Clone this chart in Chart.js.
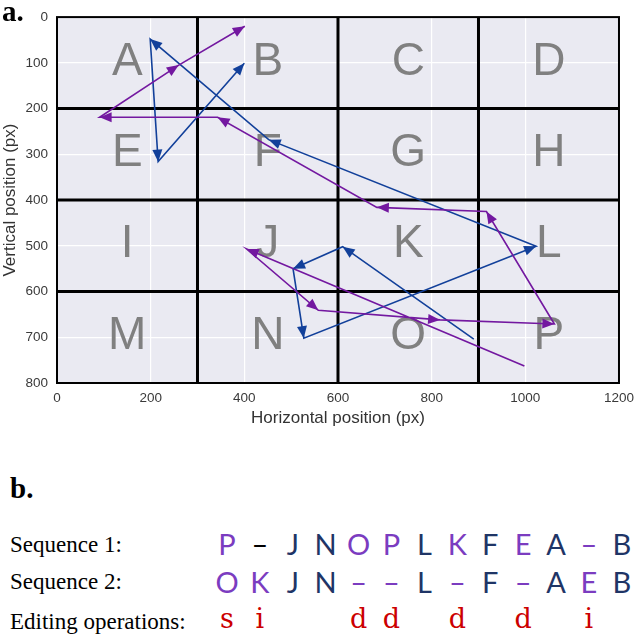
<!DOCTYPE html>
<html>
<head>
<meta charset="utf-8">
<script src="https://cdn.jsdelivr.net/npm/chart.js@4"></script>
<style>
  html, body { margin: 0; padding: 0; background: #fff; }
  body { width: 641px; height: 639px; position: relative; overflow: hidden; }
  #quadro { position: absolute; left: 0; top: 0; width: 641px; height: 432px; }
  .rotulo { position: absolute; font-family: "Liberation Serif", serif; font-weight: bold; color: #000; }
  .linhaTxt { position: absolute; left: 10px; font-family: "Liberation Serif", serif; font-size: 23px; color: #000; }
  .celula { position: absolute; width: 33px; text-align: center; font-family: Lato, "Noto Sans", sans-serif; font-size: 29px; }
  .op { position: absolute; width: 33px; text-align: center; font-family: "DejaVu Serif", serif; font-size: 27px; color: #cc0000; }
</style>
</head>
<body>
<div id="quadro"><canvas id="grafico"></canvas></div>
<div class="rotulo" style="left:2px; top:-5px; font-size:29px;">a.</div>
<div class="rotulo" style="left:10px; top:472px; font-size:29px;">b.</div>
<div class="linhaTxt" style="top:532px;">Sequence 1:</div>
<div class="linhaTxt" style="top:569px;">Sequence 2:</div>
<div class="linhaTxt" style="top:609px;">Editing operations:</div>
<div id="seqs"></div>
<script>
// posições na grade (px da tela original)
const caminhoRoxoX = [998, 405, 558, 818, 1062, 917, 683, 343, 91, 260, 401];
const caminhoRoxoY = [763, 507, 641, 662, 671, 425, 416, 219, 219, 105, 20];
const caminhoAzulX = [890, 610, 504, 527, 1023, 452, 199, 216, 400];
const caminhoAzulY = [704, 502, 550, 702, 501, 268, 48, 316, 101];

const letrasCelulas = ['A','B','C','D','E','F','G','H','I','J','K','L','M','N','O','P'];
const bordasX = [300, 600, 900];
const bordasY = [200, 400, 600];

const sequencia1 = ['P','–','J','N','O','P','L','K','F','E','A','–','B'];
const sequencia2 = ['O','K','J','N','–','–','L','–','F','–','A','E','B'];
const operacoes = ['s','i','','','d','d','','d','','d','','i',''];

const ROXO = '#7318a0';
const AZUL = '#12409a';

const pluginGrade = {
    id: 'grade',
    beforeDatasetsDraw(chart) {
        const ctx = chart.ctx;
        const sx = chart.scales.x, sy = chart.scales.y;
        const area = chart.chartArea;
        ctx.save();
        // letras das células
        ctx.fillStyle = '#808080';
        ctx.font = '46px "Liberation Sans", Arial, sans-serif';
        ctx.textAlign = 'center';
        ctx.textBaseline = 'middle';
        letrasCelulas.forEach((l, i) => {
            const cx = (i % 4) * 300 + 150;
            const cy = Math.floor(i / 4) * 200 + 100;
            ctx.fillText(l, sx.getPixelForValue(cx), sy.getPixelForValue(cy) - 1);
        });
        // linhas grossas
        ctx.strokeStyle = '#000';
        ctx.lineWidth = 3;
        bordasX.forEach(v => {
            const p = sx.getPixelForValue(v);
            ctx.beginPath(); ctx.moveTo(p, area.top); ctx.lineTo(p, area.bottom); ctx.stroke();
        });
        bordasY.forEach(v => {
            const p = sy.getPixelForValue(v);
            ctx.beginPath(); ctx.moveTo(area.left, p); ctx.lineTo(area.right, p); ctx.stroke();
        });
        ctx.lineWidth = 2;
        ctx.strokeRect(area.left, area.top, area.right - area.left, area.bottom - area.top);
        ctx.restore();
    },
    afterDatasetsDraw(chart) {
        const ctx = chart.ctx;
        chart.data.datasets.forEach((ds, di) => {
            const pts = chart.getDatasetMeta(di).data;
            ctx.save();
            ctx.fillStyle = ds.borderColor;
            for (let i = 1; i < pts.length; i++) {
                const a = pts[i - 1], b = pts[i];
                const ang = Math.atan2(b.y - a.y, b.x - a.x);
                const L = 12, W = 5;
                ctx.beginPath();
                ctx.moveTo(b.x, b.y);
                ctx.lineTo(b.x - L * Math.cos(ang) + W * Math.sin(ang), b.y - L * Math.sin(ang) - W * Math.cos(ang));
                ctx.lineTo(b.x - L * Math.cos(ang) - W * Math.sin(ang), b.y - L * Math.sin(ang) + W * Math.cos(ang));
                ctx.closePath();
                ctx.fill();
            }
            ctx.restore();
        });
    }
};

function plotar() {
    const ctx = document.getElementById('grafico').getContext('2d');
    const dadosRoxo = caminhoRoxoX.map((x, i) => ({ x: x, y: caminhoRoxoY[i] }));
    const dadosAzul = caminhoAzulX.map((x, i) => ({ x: x, y: caminhoAzulY[i] }));
    const fonteTicks = { size: 13.5, family: '"Liberation Sans", Arial' };

    new Chart(ctx, {
        type: 'line',
        data: {
            datasets: [
                { label: 'Sequência 1', data: dadosRoxo, borderColor: ROXO, borderWidth: 1.6, pointRadius: 0, fill: false, tension: 0 },
                { label: 'Sequência 2', data: dadosAzul, borderColor: AZUL, borderWidth: 1.6, pointRadius: 0, fill: false, tension: 0 }
            ]
        },
        plugins: [pluginGrade, {
            id: 'fundo',
            beforeDraw(chart) {
                const a = chart.chartArea;
                chart.ctx.save();
                chart.ctx.fillStyle = '#eaeaf2';
                chart.ctx.fillRect(a.left, a.top, a.right - a.left, a.bottom - a.top);
                chart.ctx.restore();
            }
        }],
        options: {
            animation: false,
            responsive: true,
            maintainAspectRatio: false,
            layout: { padding: { top: 7, right: 18, left: 0, bottom: 0 } },
            plugins: { legend: { display: false }, tooltip: { enabled: false } },
            scales: {
                x: {
                    type: 'linear',
                    min: 0, max: 1200,
                    afterFit(s) { s.height = 49; },
                    ticks: { stepSize: 200, color: '#3a3a3a', padding: 7, font: fonteTicks, callback: v => String(v) },
                    grid: { color: '#ffffff', lineWidth: 1.2, drawTicks: false },
                    border: { display: false },
                    title: { display: true, text: 'Horizontal position (px)', color: '#333', padding: { top: 0, bottom: 3 }, font: { size: 17, family: '"Liberation Sans", Arial' } }
                },
                y: {
                    type: 'linear',
                    min: 0, max: 800,
                    reverse: true,
                    afterFit(s) { s.width = 57; },
                    ticks: { stepSize: 100, color: '#3a3a3a', padding: 9, font: fonteTicks, callback: v => String(v) },
                    grid: { color: '#ffffff', lineWidth: 1.2, drawTicks: false },
                    border: { display: false },
                    title: { display: true, text: 'Vertical position (px)', color: '#333', padding: { top: 0, bottom: 0 }, font: { size: 17, family: '"Liberation Sans", Arial' } }
                }
            }
        }
    });
}

function escreverSequencias() {
    const alvo = document.getElementById('seqs');
    const x0 = 227, passo = 32.9;
    const cor = (op, linha, i) => {
        if (linha === 1 && i === 1) return '#000';
        return op ? '#7b3cc0' : '#1f3566';
    };
    [[sequencia1, 526, 1], [sequencia2, 564, 2]].forEach(([seq, topo, linha]) => {
        seq.forEach((ch, i) => {
            const d = document.createElement('div');
            d.className = 'celula';
            d.textContent = ch;
            d.style.left = (x0 + passo * i - 16.5) + 'px';
            d.style.top = topo + 'px';
            d.style.color = cor(operacoes[i], linha, i);
            alvo.appendChild(d);
        });
    });
    operacoes.forEach((op, i) => {
        if (!op) return;
        const d = document.createElement('div');
        d.className = 'op';
        d.textContent = op;
        d.style.left = (x0 + passo * i - 16.5) + 'px';
        d.style.top = '603px';
        alvo.appendChild(d);
    });
}

function main() {
    plotar();
    escreverSequencias();
}

window.addEventListener('DOMContentLoaded', main);
</script>
</body>
</html>
